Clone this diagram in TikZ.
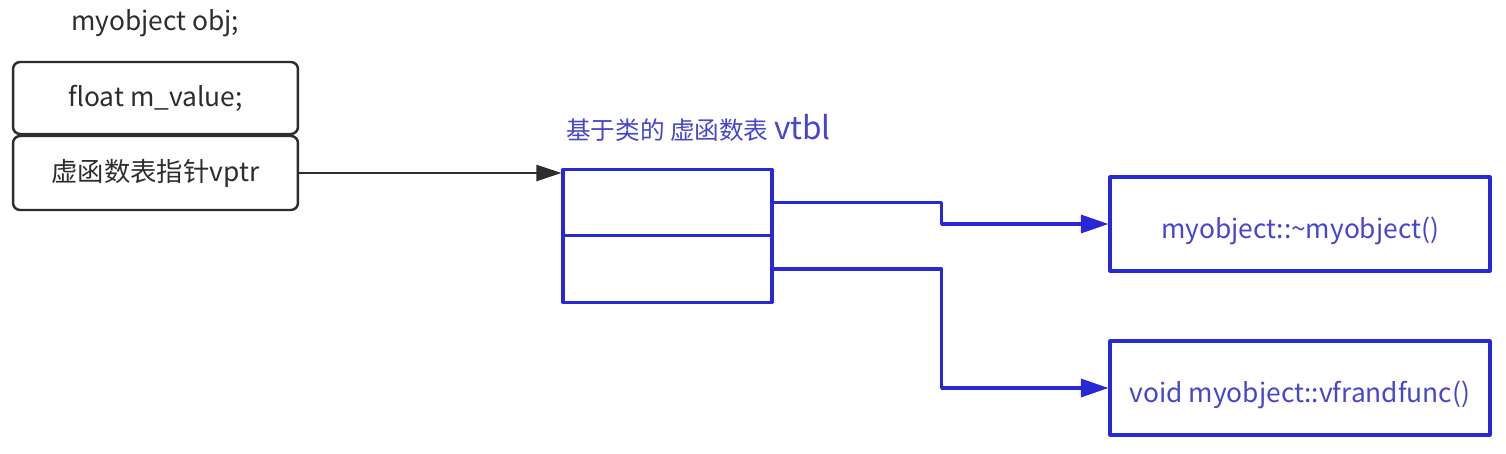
\documentclass[tikz,border=0pt]{standalone}
\usepackage{fontspec}
\setmainfont{Noto Sans CJK SC}
\usetikzlibrary{arrows.meta}
\definecolor{vblue}{RGB}{40,40,215}
\definecolor{vtext}{RGB}{70,70,205}
\definecolor{objgray}{RGB}{45,45,45}

\begin{document}
\begin{tikzpicture}[x=0.02cm,y=-0.02cm,line join=round]
\tikzstyle{obj box} = [draw=objgray,line width=1.4pt,rounded corners=4pt,minimum width=5.7cm,minimum height=1.44cm,text=objgray,font=\fontsize{15}{18}\selectfont]
\tikzstyle{slot} = [draw=vblue,line width=1.8pt,minimum width=4.18cm,minimum height=1.33cm]
\tikzstyle{func box} = [draw=vblue,line width=1.8pt,minimum width=7.6cm,minimum height=1.88cm,text=vtext,font=\fontsize{15}{18}\selectfont,text height=17pt,text depth=0pt]
\tikzstyle{vlink} = [draw=vblue,line width=1.8pt,-{Triangle[length=0.55cm,width=0.36cm]}]

\useasboundingbox (0,0) rectangle (1506,453);

% the object
\node[text=objgray,font=\fontsize{15}{18}\selectfont] (objname) at (155,23) {myobject obj;};
\node[obj box] (mvalue) at (155.5,98) {float m\_value;};
\node[obj box,minimum height=1.48cm] (vptr) at (155.5,173) {虚函数表指针vptr};

% the table
\node[text=vtext,font=\fontsize{14}{17}\selectfont,anchor=west] (vtbltitle) at (560,128) {基于类的 虚函数表 {\fontsize{18}{20}\selectfont vtbl}};
\node[slot] (slot1) at (667.5,202.5) {};
\node[slot] (slot2) at (667.5,269) {};

% the functions
\node[func box] (dtor) at (1300,224) {myobject::\textasciitilde myobject()};
\node[func box] (vfunc) at (1300,388) {void myobject::vfrandfunc()};

\draw[draw=objgray,line width=1.4pt,-{Triangle[length=0.5cm,width=0.32cm]}] (vptr.east) -- (vptr.east -| slot1.west);
\draw[vlink] (slot1.east) -- ++(168,0) |- (dtor.west);
\draw[vlink] (slot2.east) -- ++(168,0) |- (vfunc.west);

\end{tikzpicture}
\end{document}
